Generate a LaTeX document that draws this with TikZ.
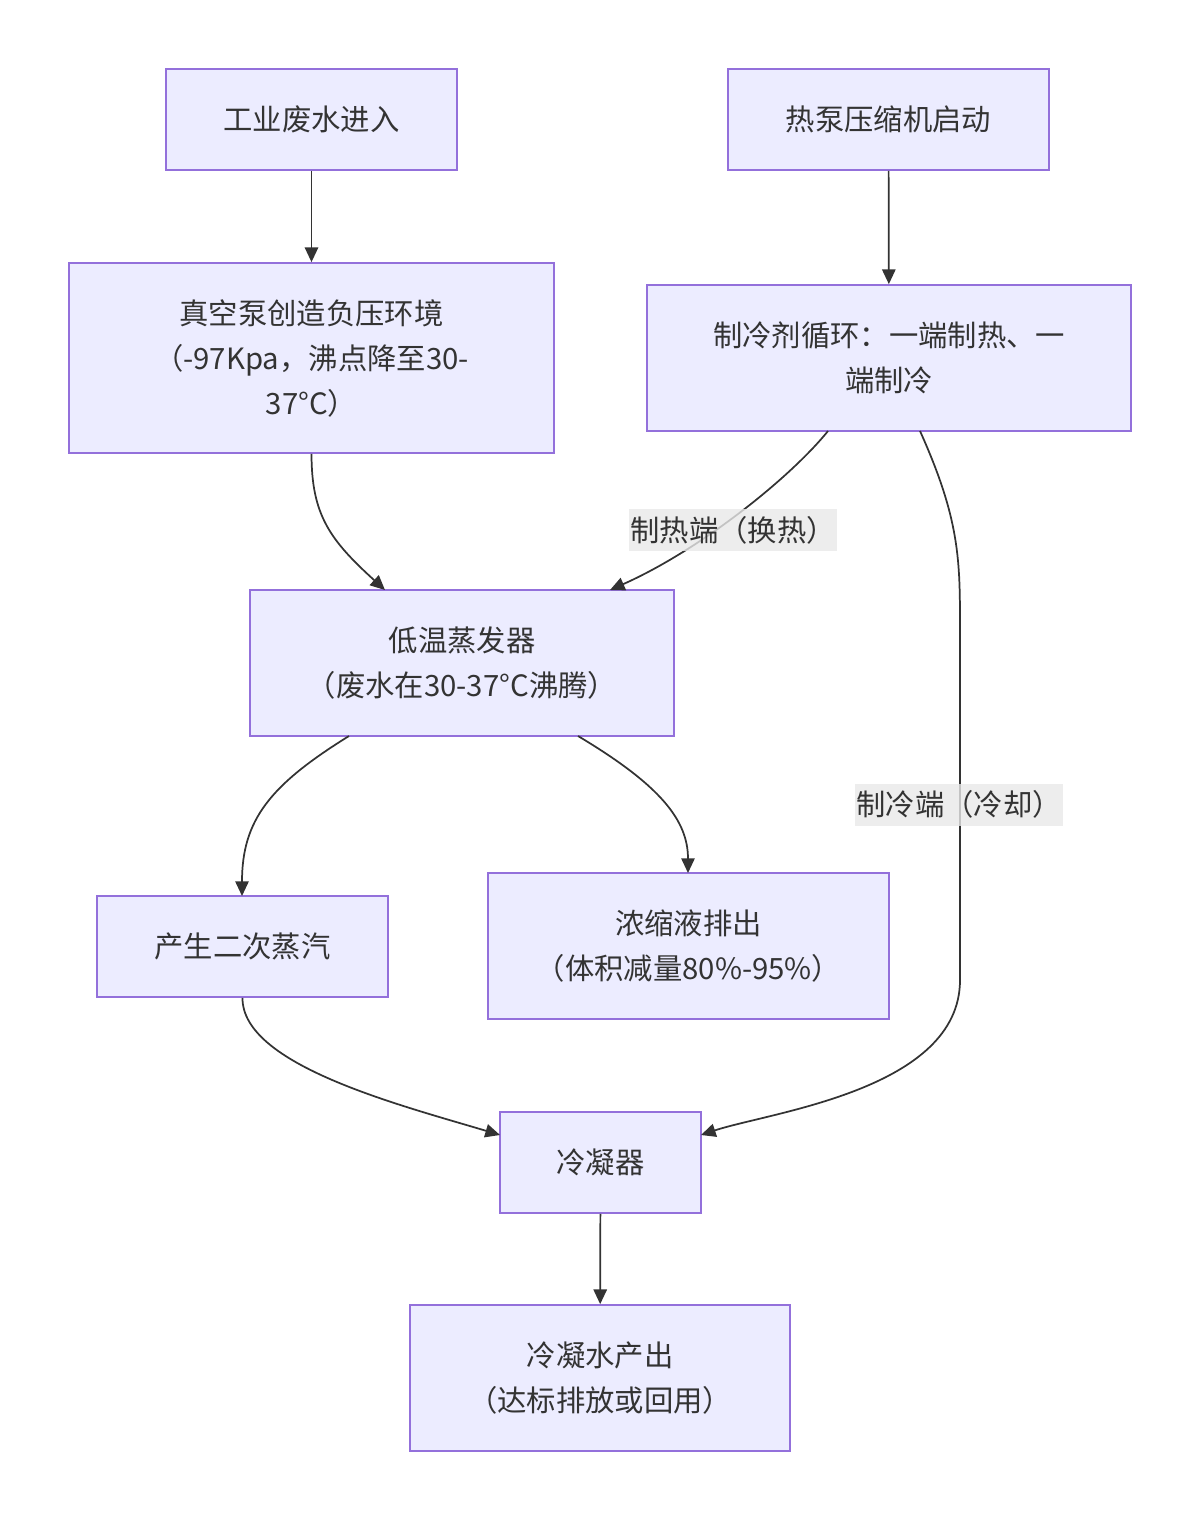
\documentclass[tikz,border=0pt]{standalone}
\usepackage{fontspec}
\usepackage{tikz}
\usetikzlibrary{arrows.meta}
\newfontfamily\cjk{Noto Sans CJK SC}
\definecolor{boxfill}{RGB}{236,236,255}
\definecolor{boxline}{RGB}{147,112,219}
\definecolor{textgray}{RGB}{51,51,51}
\definecolor{labelbg}{RGB}{232,232,232}

\begin{document}
\begin{tikzpicture}[x=0.75pt, y=0.75pt,
    box/.style={draw=boxline, fill=boxfill, line width=1.3pt, text=textgray,
                align=center, inner sep=0pt,
                font=\cjk\fontsize{22}{33.75}\selectfont},
    edgelabel/.style={fill=labelbg, fill opacity=0.8, text opacity=1, text=textgray,
                inner sep=0pt, minimum width=156pt, minimum height=31.5pt,
                font=\cjk\fontsize{22}{26}\selectfont},
    flow/.style={draw=textgray, line width=1.3pt, -{Triangle[length=11pt, width=10pt]}}]
    % Fix the page size
    \useasboundingbox (0,0) rectangle (1200,-1520);

    % Draw the boxes
    \node[box, minimum width=218.25pt, minimum height=75.75pt] (waste) at (311.5,-119.5) {工业废水进入};
    \node[box, minimum width=240.75pt, minimum height=75.75pt] (compressor) at (888.5,-119.5) {热泵压缩机启动};
    \node[box, minimum width=363.75pt, minimum height=142.5pt] (vacuum) at (311.5,-358) {真空泵创造负压环境\\（-97Kpa，沸点降至30-\\37°C）};
    \node[box, minimum width=363pt, minimum height=109.5pt] (refrig) at (889,-358) {制冷剂循环：一端制热、一\\端制冷};
    \node[box, minimum width=318pt, minimum height=109.5pt] (evap) at (462,-663) {低温蒸发器\\（废水在30-37°C沸腾）};
    \node[box, minimum width=218.25pt, minimum height=75.75pt] (steam) at (242.5,-946.5) {产生二次蒸汽};
    \node[box, minimum width=300.75pt, minimum height=109.5pt] (conc) at (688.5,-946) {浓缩液排出\\（体积减量80\%-95\%）};
    \node[box, minimum width=150.75pt, minimum height=75.75pt] (cond) at (600.5,-1162.5) {冷凝器};
    \node[box, minimum width=285pt, minimum height=109.5pt] (water) at (600,-1378) {冷凝水产出\\（达标排放或回用）};

    % Straight connectors
    \draw[flow] (waste) -- (vacuum);
    \draw[flow] (compressor) -- (refrig);
    \draw[flow] (cond) -- (water);

    % Curved connectors
    \draw[flow] (vacuum.south) .. controls (311.5,-515) and (330,-540) .. (385,-590);
    \draw[flow] (828,-431) .. controls (790,-478) and (700,-550) .. (610,-590);
    \draw[flow] (920,-431) .. controls (960,-520) and (960,-560) .. (960,-630)
        -- (960,-980) .. controls (960,-1090) and (770,-1112) .. (701,-1135);
    \draw[flow] (349,-736) .. controls (270,-785) and (242,-820) .. (242,-896);
    \draw[flow] (578,-736) .. controls (660,-785) and (688,-820) .. (688,-873);
    \draw[flow] (steam.south) .. controls (242,-1065) and (400,-1105) .. (500,-1135);

    % Edge labels
    \node[edgelabel] (hotlabel) at (733,-530) {制热端（换热）};
    \node[edgelabel] (coldlabel) at (959,-804.5) {制冷端（冷却）};
\end{tikzpicture}
\end{document}
